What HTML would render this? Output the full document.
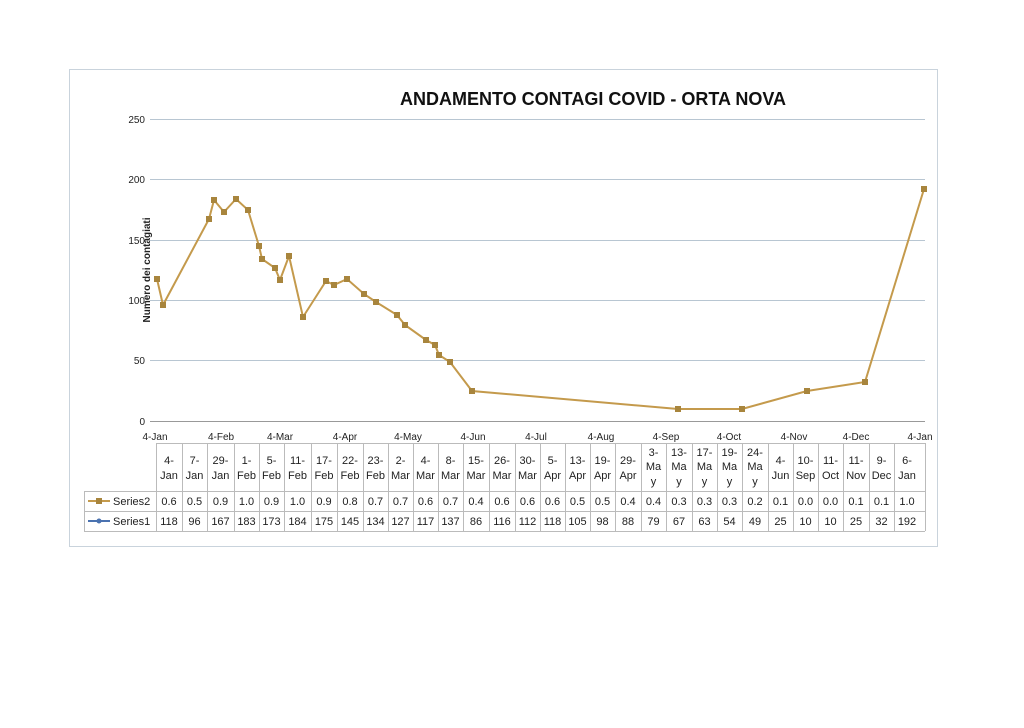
<!DOCTYPE html>
<html><head><meta charset="utf-8"><style>
body{margin:0;background:#fff;width:1024px;height:723px;overflow:hidden;font-family:"Liberation Sans",sans-serif;}
svg text{font-family:"Liberation Sans",sans-serif;}
</style></head><body>
<svg width="1024" height="723" xmlns="http://www.w3.org/2000/svg">
<rect x="69.5" y="69.5" width="868" height="477" fill="#fff" stroke="#c9d3dc"/>
<text x="593" y="105" font-size="18" font-weight="bold" text-anchor="middle" fill="#111">ANDAMENTO CONTAGI COVID - ORTA NOVA</text>
<g stroke="#b8c6d2" stroke-width="1">
<line x1="150" y1="119.5" x2="925" y2="119.5"/>
<line x1="150" y1="179.5" x2="925" y2="179.5"/>
<line x1="150" y1="240.5" x2="925" y2="240.5"/>
<line x1="150" y1="300.5" x2="925" y2="300.5"/>
<line x1="150" y1="360.5" x2="925" y2="360.5"/>
<line x1="150" y1="421.5" x2="925" y2="421.5" stroke="#999"/>
</g>
<g font-size="10" fill="#222" text-anchor="end">
<text x="145" y="123">250</text><text x="145" y="183">200</text><text x="145" y="244">150</text>
<text x="145" y="304">100</text><text x="145" y="364">50</text><text x="145" y="425">0</text>
</g>
<text transform="translate(150,270) rotate(-90)" font-size="10" font-weight="bold" text-anchor="middle" fill="#222">Numero dei contagiati</text>
<g font-size="10" fill="#222" text-anchor="middle">
<text x="155" y="440">4-Jan</text><text x="221" y="440">4-Feb</text><text x="280" y="440">4-Mar</text>
<text x="345" y="440">4-Apr</text><text x="408" y="440">4-May</text><text x="473" y="440">4-Jun</text>
<text x="536" y="440">4-Jul</text><text x="601" y="440">4-Aug</text><text x="666" y="440">4-Sep</text>
<text x="729" y="440">4-Oct</text><text x="794" y="440">4-Nov</text><text x="856" y="440">4-Dec</text>
<text x="920" y="440">4-Jan</text>
</g>
<polyline fill="none" stroke="#c49a4c" stroke-width="2" points="157,279 163,305 209,219 214,200 224,212 236,199 248,210 259,246 262,259 275,268 280,280 289,256 303,317 326,281 334,285 347,279 364,294 376,302 397,315 405,325 426,340 435,345 439,355 450,362 472,391 678,409 742,409 807,391 865,382 924,189"/>
<g fill="#a8853d">
<rect x="154" y="276" width="6" height="6"/><rect x="160" y="302" width="6" height="6"/><rect x="206" y="216" width="6" height="6"/><rect x="211" y="197" width="6" height="6"/><rect x="221" y="209" width="6" height="6"/><rect x="233" y="196" width="6" height="6"/><rect x="245" y="207" width="6" height="6"/><rect x="256" y="243" width="6" height="6"/><rect x="259" y="256" width="6" height="6"/><rect x="272" y="265" width="6" height="6"/><rect x="277" y="277" width="6" height="6"/><rect x="286" y="253" width="6" height="6"/><rect x="300" y="314" width="6" height="6"/><rect x="323" y="278" width="6" height="6"/><rect x="331" y="282" width="6" height="6"/><rect x="344" y="276" width="6" height="6"/><rect x="361" y="291" width="6" height="6"/><rect x="373" y="299" width="6" height="6"/><rect x="394" y="312" width="6" height="6"/><rect x="402" y="322" width="6" height="6"/><rect x="423" y="337" width="6" height="6"/><rect x="432" y="342" width="6" height="6"/><rect x="436" y="352" width="6" height="6"/><rect x="447" y="359" width="6" height="6"/><rect x="469" y="388" width="6" height="6"/><rect x="675" y="406" width="6" height="6"/><rect x="739" y="406" width="6" height="6"/><rect x="804" y="388" width="6" height="6"/><rect x="862" y="379" width="6" height="6"/><rect x="921" y="186" width="6" height="6"/>
</g>
<g id="tbl"></g>
</svg>
<script>
var tops=["4-","7-","29-","1-","5-","11-","17-","22-","23-","2-","4-","8-","15-","26-","30-","5-","13-","19-","29-","3-","13-","17-","19-","24-","4-","10-","11-","11-","9-","6-"];
var bots=["Jan","Jan","Jan","Feb","Feb","Feb","Feb","Feb","Feb","Mar","Mar","Mar","Mar","Mar","Mar","Apr","Apr","Apr","Apr","Ma","Ma","Ma","Ma","Ma","Jun","Sep","Oct","Nov","Dec","Jan"];
var s2=["0.6","0.5","0.9","1.0","0.9","1.0","0.9","0.8","0.7","0.7","0.6","0.7","0.4","0.6","0.6","0.6","0.5","0.5","0.4","0.4","0.3","0.3","0.3","0.2","0.1","0.0","0.0","0.1","0.1","1.0"];
var s1=[118,96,167,183,173,184,175,145,134,127,117,137,86,116,112,118,105,98,88,79,67,63,54,49,25,10,10,25,32,192];
var ws=[26,25,27,25,25,27,26,26,25,25,25,25,26,26,25,25,25,25,26,25,26,25,25,26,25,25,25,26,25,26];
var h='',x=156,c='#bbb';
h+='<line x1="156" y1="443.5" x2="925" y2="443.5" stroke="'+c+'"/>';
h+='<line x1="84" y1="491.5" x2="925" y2="491.5" stroke="'+c+'"/>';
h+='<line x1="84" y1="511.5" x2="925" y2="511.5" stroke="'+c+'"/>';
h+='<line x1="84" y1="531.5" x2="925" y2="531.5" stroke="'+c+'"/>';
h+='<line x1="84.5" y1="491" x2="84.5" y2="531" stroke="'+c+'"/>';
h+='<line x1="88" y1="501" x2="110" y2="501" stroke="#c49a4c" stroke-width="2"/><rect x="96" y="498" width="6" height="6" fill="#a8853d"/>';
h+='<text x="113" y="505" font-size="11" fill="#222">Series2</text>';
h+='<line x1="88" y1="521" x2="110" y2="521" stroke="#4a72b0" stroke-width="2"/><circle cx="99" cy="521" r="2.5" fill="#4a72b0"/>';
h+='<text x="113" y="525" font-size="11" fill="#222">Series1</text>';
for(var i=0;i<30;i++){
 var w=ws[i];
 h+='<line x1="'+(x+.5)+'" y1="443" x2="'+(x+.5)+'" y2="531" stroke="'+c+'"/>';
 var cx=x+w/2;
 if(i>=19&&i<=23){
  h+='<text x="'+cx+'" y="456" font-size="11" text-anchor="middle" fill="#222">'+tops[i]+'</text>';
  h+='<text x="'+cx+'" y="470" font-size="11" text-anchor="middle" fill="#222">'+bots[i]+'</text>';
  h+='<text x="'+cx+'" y="485" font-size="11" text-anchor="middle" fill="#222">y</text>';
 } else {
  h+='<text x="'+cx+'" y="464" font-size="11" text-anchor="middle" fill="#222">'+tops[i]+'</text>';
  h+='<text x="'+cx+'" y="479" font-size="11" text-anchor="middle" fill="#222">'+bots[i]+'</text>';
 }
 h+='<text x="'+cx+'" y="505" font-size="11" text-anchor="middle" fill="#222">'+s2[i]+'</text>';
 h+='<text x="'+cx+'" y="525" font-size="11" text-anchor="middle" fill="#222">'+s1[i]+'</text>';
 x+=w;
}
h+='<line x1="925.5" y1="443" x2="925.5" y2="531" stroke="'+c+'"/>';
document.getElementById('tbl').innerHTML=h;
</script>
</body></html>
